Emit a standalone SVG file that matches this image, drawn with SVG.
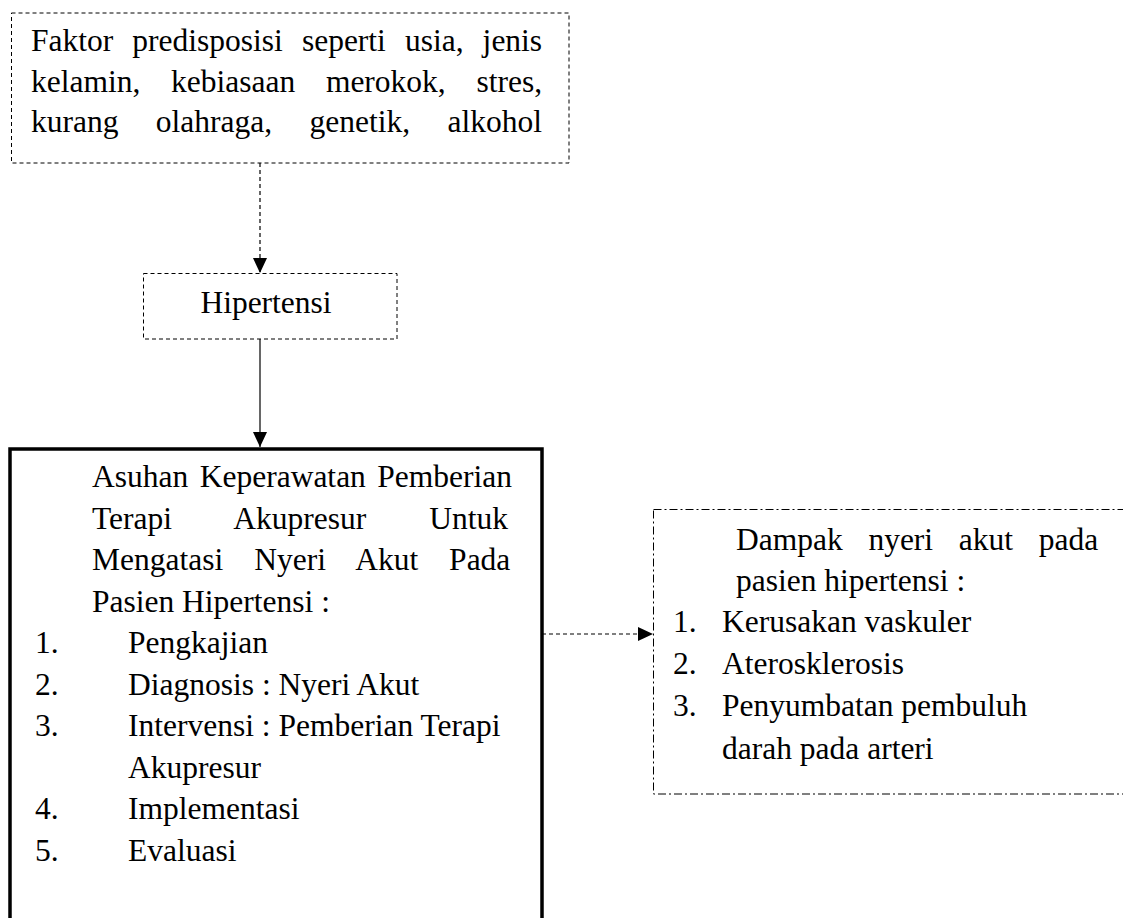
<svg xmlns="http://www.w3.org/2000/svg" width="1123" height="918" viewBox="0 0 1123 918">
<style>
.t { font-family: "Liberation Serif", "Times New Roman", serif; font-size: 31.5px; fill: #000; }
.dash { fill: none; stroke: #000; stroke-width: 1; stroke-dasharray: 4 3; }
.dashdot { fill: none; stroke: #000; stroke-width: 1; stroke-dasharray: 8 3 2 3; }
.thick { fill: none; stroke: #000; stroke-width: 3.5; }
.conn { fill: none; stroke: #000; stroke-width: 1.2; }
</style>
<defs>
<marker id="ah" viewBox="0 0 15 14" refX="15" refY="7" markerWidth="15" markerHeight="14" orient="auto" markerUnits="userSpaceOnUse">
<path d="M0,0 L15,7 L0,14 z" fill="#000"/>
</marker>
</defs>
<rect width="1123" height="918" fill="#fff"/>

<g id="faktor">
<rect class="dash" x="11.5" y="13" width="557.5" height="150"/>
<text class="t" x="31" y="51" word-spacing="11.2">Faktor predisposisi seperti usia, jenis</text>
<text class="t" x="31" y="91.5" word-spacing="22.8">kelamin, kebiasaan merokok, stres,</text>
<text class="t" x="31" y="132" word-spacing="29.5">kurang olahraga, genetik, alkohol</text>
</g>

<g id="hipertensi">
<rect class="dash" x="143.5" y="273.5" width="253.5" height="65.5"/>
<text class="t" x="266" y="313" text-anchor="middle">Hipertensi</text>
</g>

<g id="asuhan">
<rect class="thick" x="10" y="449" width="532" height="490"/>
<text class="t" x="92" y="487" word-spacing="3.6">Asuhan Keperawatan Pemberian</text>
<text class="t" x="92" y="528.5" word-spacing="55.1">Terapi Akupresur Untuk</text>
<text class="t" x="92" y="570" word-spacing="23.1">Mengatasi Nyeri Akut Pada</text>
<text class="t" x="92" y="611.5">Pasien Hipertensi :</text>
<text class="t" x="35" y="653">1.</text><text class="t" x="128" y="653">Pengkajian</text>
<text class="t" x="35" y="694.5">2.</text><text class="t" x="128" y="694.5">Diagnosis : Nyeri Akut</text>
<text class="t" x="35" y="736">3.</text><text class="t" x="128" y="736">Intervensi : Pemberian Terapi</text>
<text class="t" x="128" y="777.5">Akupresur</text>
<text class="t" x="35" y="819">4.</text><text class="t" x="128" y="819">Implementasi</text>
<text class="t" x="35" y="860.5">5.</text><text class="t" x="128" y="860.5">Evaluasi</text>
</g>

<g id="dampak">
<rect class="dashdot" x="653.5" y="509.5" width="480" height="284.5"/>
<text class="t" x="736" y="550" word-spacing="17.8">Dampak nyeri akut pada</text>
<text class="t" x="736" y="591">pasien hipertensi :</text>
<text class="t" x="673" y="632">1.</text><text class="t" x="722" y="632">Kerusakan vaskuler</text>
<text class="t" x="673" y="674">2.</text><text class="t" x="722" y="674">Aterosklerosis</text>
<text class="t" x="673" y="716">3.</text><text class="t" x="722" y="716">Penyumbatan pembuluh</text>
<text class="t" x="722" y="759">darah pada arteri</text>
</g>

<g id="connectors">
<line class="conn" x1="260" y1="163" x2="260" y2="273" stroke-dasharray="4 3" marker-end="url(#ah)"/>
<line class="conn" x1="260" y1="339" x2="260" y2="447" marker-end="url(#ah)"/>
<line class="conn" x1="542" y1="634" x2="653" y2="634" stroke-dasharray="4 3" marker-end="url(#ah)"/>
</g>
</svg>
